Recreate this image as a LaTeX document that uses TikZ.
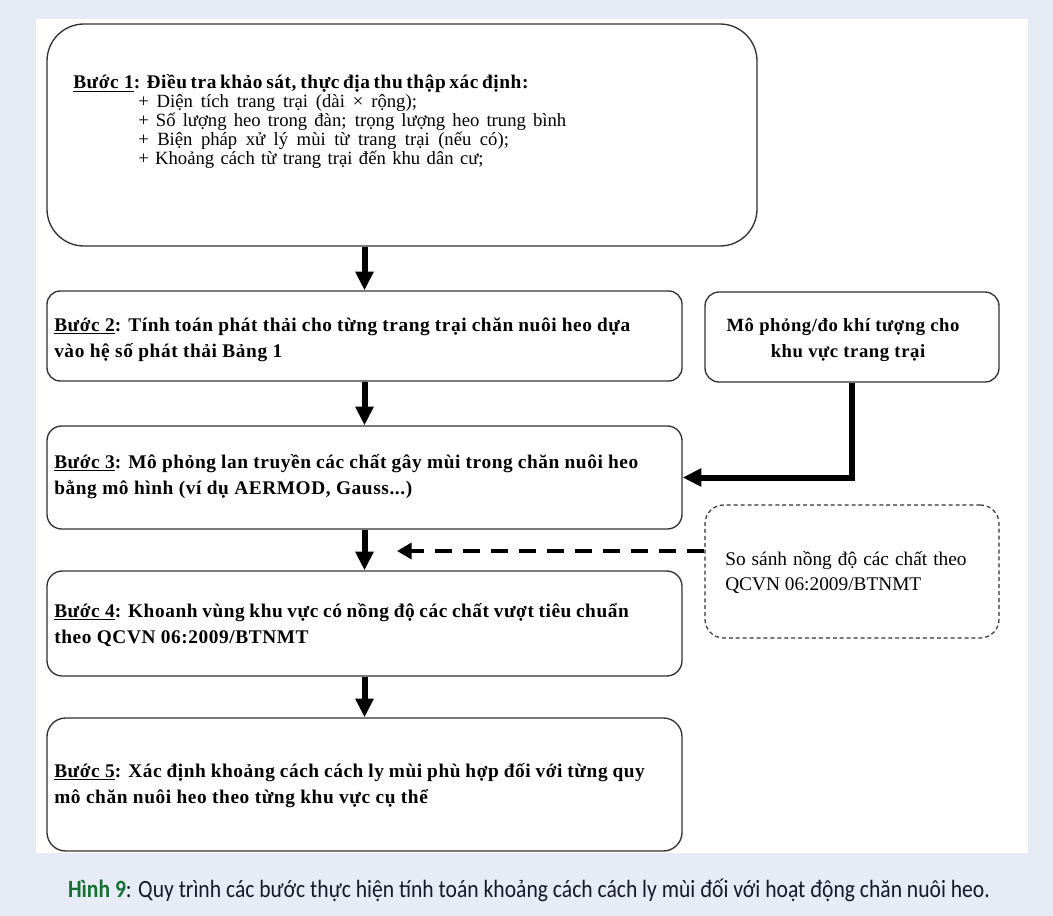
\documentclass[tikz,border=0pt]{standalone}
\usepackage{fontspec}
\setmainfont{Liberation Serif}
\newfontfamily\capfont{Carlito}
\usetikzlibrary{arrows.meta}
\definecolor{bgc}{RGB}{231,235,245}
\definecolor{edge}{RGB}{50,50,50}
\definecolor{capgreen}{RGB}{22,112,52}
\definecolor{capdark}{RGB}{24,24,40}
\newcommand{\fitl}[2]{\makebox[#1][s]{#2}}
\tikzset{
  box/.style={draw=edge, line width=1pt, fill=white, inner sep=0pt},
  dbox/.style={draw=edge, line width=0.9pt, fill=white, inner sep=0pt, dash pattern=on 3pt off 2.2pt},
  bt/.style={anchor=base west, inner sep=0pt, font=\fontsize{14.5pt}{16pt}\selectfont\bfseries\addfontfeatures{LetterSpace=3}},
  rt/.style={anchor=base west, inner sep=0pt, font=\fontsize{14pt}{16pt}\selectfont},
  ct/.style={anchor=base, inner sep=0pt, font=\fontsize{14pt}{16pt}\selectfont\bfseries\addfontfeatures{LetterSpace=3}},
  arr/.style={line width=4.5pt, -{Triangle[length=14pt,width=13pt]}},
  darr/.style={line width=3.5pt, dash pattern=on 12.75pt off 8.25pt, -{Triangle[length=11pt,width=12pt]}}
}
\begin{document}
\begin{tikzpicture}[x=0.75pt,y=-0.75pt]
\fill[bgc] (0,0) rectangle (1053,916);
\fill[white] (36,19) rectangle (1028,853);
\useasboundingbox (0,0) rectangle (1053,916);

% boxes
\node[box, minimum width=532.5pt, minimum height=166.5pt, rounded corners=27.75pt] (b1) at (402,135) {};
\node[box, minimum width=476.25pt, minimum height=67.5pt, rounded corners=10pt] (b2) at (364.5,336) {};
\node[box, minimum width=220.5pt, minimum height=67.5pt, rounded corners=10.5pt] (r1) at (852,337) {};
\node[box, minimum width=476.25pt, minimum height=77.25pt, rounded corners=11pt] (b3) at (364.5,477.5) {};
\node[dbox, minimum width=220.5pt, minimum height=99.75pt, rounded corners=14pt] (db) at (852,571.5) {};
\node[box, minimum width=476.25pt, minimum height=78.75pt, rounded corners=11.5pt] (b4) at (364.5,623.5) {};
\node[box, minimum width=476.25pt, minimum height=99.75pt, rounded corners=14pt] (b5) at (364.5,784.5) {};

% box 1 text
\node[bt] (t1a) at (73,89) {\fitl{341pt}{\underline{Bước 1}: Điều tra khảo sát, thực địa thu thập xác định:}};
\node[rt] (t1b) at (138,108) {\fitl{209pt}{+ Diện tích trang trại (dài × rộng);}};
\node[rt] (t1c) at (138,127) {\fitl{321pt}{+ Số lượng heo trong đàn; trọng lượng heo trung bình}};
\node[rt] (t1d) at (138,146) {\fitl{278pt}{+ Biện pháp xử lý mùi từ trang trại (nếu có);}};
\node[rt] (t1e) at (138,165) {\fitl{259pt}{+ Khoảng cách từ trang trại đến khu dân cư;}};

% box 2 text
\node[bt] (t2a) at (54,331) {\fitl{432pt}{\underline{Bước 2}: Tính toán phát thải cho từng trang trại chăn nuôi heo dựa}};
\node[bt] (t2b) at (54,357) {vào hệ số phát thải Bảng 1};

% right box text
\node[ct] (r1a) at (843,331) {Mô phỏng/đo khí tượng cho};
\node[ct] (r1b) at (848,357) {khu vực trang trại};

% box 3 text
\node[bt] (t3a) at (54,468) {\fitl{438pt}{\underline{Bước 3}: Mô phỏng lan truyền các chất gây mùi trong chăn nuôi heo}};
\node[bt] (t3b) at (54,494) {bằng mô hình (ví dụ AERMOD, Gauss...)};

% dashed box text
\node[rt, font=\fontsize{14.5pt}{16pt}\selectfont] (dta) at (725,565) {\fitl{181pt}{So sánh nồng độ các chất theo}};
\node[rt, font=\fontsize{14.5pt}{16pt}\selectfont] (dtb) at (725,590) {QCVN 06:2009/BTNMT};

% box 4 text
\node[bt] (t4a) at (54,617) {\fitl{431pt}{\underline{Bước 4}: Khoanh vùng khu vực có nồng độ các chất vượt tiêu chuẩn}};
\node[bt] (t4b) at (54,643) {theo QCVN 06:2009/BTNMT};

% box 5 text
\node[bt] (t5a) at (54,777) {\fitl{443pt}{\underline{Bước 5}: Xác định khoảng cách cách ly mùi phù hợp đối với từng quy}};
\node[bt] (t5b) at (54,803) {mô chăn nuôi heo theo từng khu vực cụ thể};

% connectors
\draw[arr] (b1.south -| b2.north) -- (b2.north);
\draw[arr] (b2.south) -- (b3.north);
\draw[arr] (b3.south) -- (b4.north);
\draw[arr] (b4.south) -- (b5.north);
\draw[arr] (r1.south) |- (b3.east);
\coordinate (dy) at (0,551);
\coordinate (dtip) at (397,551);
\draw[darr] (db.west |- dy) -- (dtip);

% caption
\node[anchor=base, inner sep=0pt] (cap) at (529,897) {\scalebox{1}[1.15]{\resizebox{691.5pt}{!}{\capfont\fontsize{16pt}{18pt}\selectfont{\color{capgreen}\bfseries Hình 9}\color{capdark}: Quy trình các bước thực hiện tính toán khoảng cách cách ly mùi đối với hoạt động chăn nuôi heo.}}};
\end{tikzpicture}
\end{document}
